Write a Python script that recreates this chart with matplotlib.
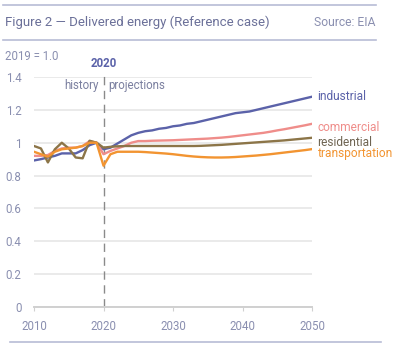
import matplotlib.pyplot as plt
import numpy as np

plt.rcParams['font.family'] = ['Roboto', 'DejaVu Sans']

years = np.arange(2010, 2051)

industrial = [0.892, 0.90, 0.91, 0.92, 0.935, 0.935, 0.935, 0.955, 0.985, 1.0,
              0.96, 0.97, 0.995, 1.02, 1.045, 1.06, 1.07, 1.075, 1.085, 1.09,
              1.10, 1.105, 1.115, 1.12, 1.13, 1.14, 1.15, 1.16, 1.17, 1.18,
              1.185, 1.19, 1.20, 1.21, 1.22, 1.23, 1.24, 1.25, 1.26, 1.27, 1.28]
commercial = [0.92, 0.92, 0.925, 0.95, 0.965, 0.97, 0.97, 0.98, 1.01, 1.0,
              0.93, 0.95, 0.965, 0.98, 1.0, 1.01, 1.01, 1.012, 1.013, 1.014,
              1.015, 1.017, 1.019, 1.021, 1.023, 1.025, 1.028, 1.031, 1.035, 1.04,
              1.045, 1.05, 1.055, 1.06, 1.067, 1.075, 1.082, 1.09, 1.098, 1.106, 1.115]
residential = [0.98, 0.965, 0.88, 0.96, 1.0, 0.965, 0.91, 0.905, 1.012, 1.0,
               0.97, 0.975, 0.978, 0.98, 0.98, 0.98, 0.98, 0.98, 0.98, 0.98,
               0.98, 0.98, 0.98, 0.98, 0.981, 0.983, 0.985, 0.987, 0.99, 0.993,
               0.996, 0.999, 1.002, 1.005, 1.008, 1.011, 1.014, 1.018, 1.022, 1.026, 1.03]
transportation = [0.945, 0.93, 0.915, 0.945, 0.96, 0.965, 0.97, 0.98, 1.0, 1.0,
                  0.86, 0.93, 0.945, 0.945, 0.945, 0.945, 0.943, 0.94, 0.937, 0.934,
                  0.93, 0.925, 0.92, 0.916, 0.913, 0.911, 0.91, 0.91, 0.911, 0.913,
                  0.916, 0.919, 0.922, 0.926, 0.93, 0.935, 0.94, 0.945, 0.95, 0.955, 0.961]

series = [
    ('industrial', industrial, '#5b62a9', '#5b62a9', 1.28),
    ('commercial', commercial, '#ef8d8a', '#ef8d8a', 1.09),
    ('residential', residential, '#8c7548', '#6e6452', 1.003),
    ('transportation', transportation, '#f29431', '#f29431', 0.932),
]

xticks = [2010, 2020, 2030, 2040, 2050]
yticks = [0, 0.2, 0.4, 0.6, 0.8, 1.0, 1.2, 1.4]
ylabels = ['0', '0.2', '0.4', '0.6', '0.8', '1', '1.2', '1.4']

W, H = 400, 348
fig = plt.figure(figsize=(4, 3.48), dpi=100)
ax = fig.add_axes([34 / W, 1 - 307 / H, (312 - 34) / W, (307 - 77) / H])

for name, vals, col, tcol, ly in series:
    ax.plot(years, vals, color=col, lw=1.7, solid_joinstyle='round', zorder=3)
    ax.text(2050.8, ly, name, color=tcol, fontsize=8.6, va='center', ha='left')

ax.plot([2020, 2020], [0, 1.41], color='#8a8a8a', lw=1, dashes=(6, 4), zorder=2,
        clip_on=False)

ax.set_xlim(2010, 2050)
ax.set_ylim(0, 1.4)
ax.set_xticks(xticks)
ax.set_yticks(yticks)
ax.set_yticklabels(ylabels)
ax.tick_params(axis='y', length=0, pad=9, labelsize=8.3, labelcolor='#8a8fb0')
ax.tick_params(axis='x', length=3, color='#d0d0d0', pad=6, labelsize=8.3, labelcolor='#8a8fb0')
ax.grid(axis='y', color='#e6e6e6', lw=1.2)
ax.set_axisbelow(True)
for s in ['top', 'right', 'left']:
    ax.spines[s].set_visible(False)
ax.spines['bottom'].set_color('#d0d0d0')
ax.spines['bottom'].set_linewidth(1.4)

ax.text(2020, 1.44, '2020', ha='center', va='bottom', fontsize=8.3,
        fontweight='bold', color='#5b62a9')
ax.text(2019.3, 1.35, 'history', ha='right', va='center', fontsize=8.3, color='#7a7f9f')
ax.text(2020.7, 1.35, 'projections', ha='left', va='center', fontsize=8.3, color='#7a7f9f')

rule = '#b8bcd6'
fig.add_artist(plt.Line2D([3 / W, 376 / W], [1 - 5 / H] * 2, color=rule, lw=1.2))
fig.add_artist(plt.Line2D([3 / W, 376 / W], [1 - 40 / H] * 2, color=rule, lw=1.2))
fig.add_artist(plt.Line2D([10 / W, 381 / W], [1 - 342 / H] * 2, color=rule, lw=1.2))

fig.text(5 / W, 1 - 22 / H, 'Figure 2 \u2014 Delivered energy (Reference case)',
         fontsize=9.5, color='#6b7099', va='center', ha='left')
fig.text(376 / W, 1 - 22 / H, 'Source: EIA', fontsize=8.7, color='#8a8fb0',
         va='center', ha='right')
fig.text(5 / W, 1 - 57 / H, '2019 = 1.0', fontsize=8.3, color='#8a8fb0',
         va='center', ha='left')

fig.savefig('out.png', dpi=100)
